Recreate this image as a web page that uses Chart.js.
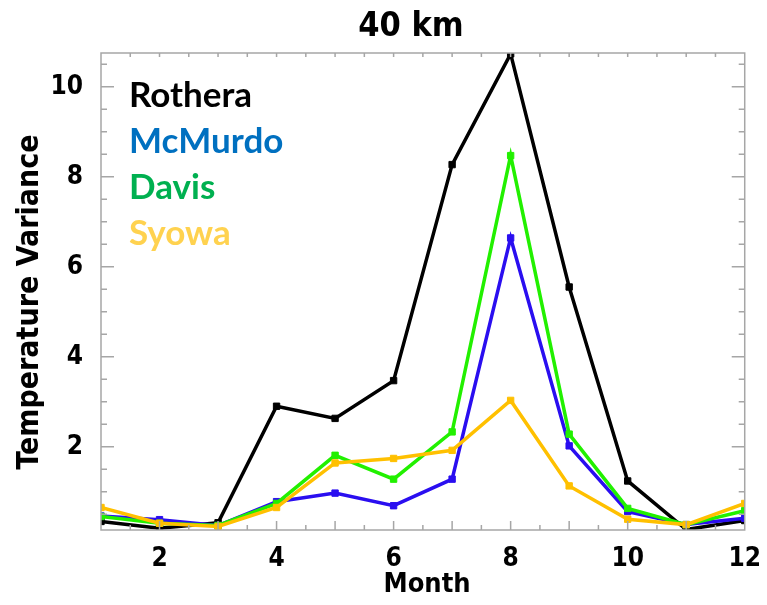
<!DOCTYPE html>
<html>
<head>
<meta charset="utf-8">
<script src="https://cdn.jsdelivr.net/npm/chart.js@4.4.1/dist/chart.umd.min.js"></script>
<style>
  html, body { margin: 0; padding: 0; background: #fff; }
  #wrap { width: 767px; height: 605px; }
</style>
</head>
<body>
<div id="wrap"><canvas id="chart"></canvas></div>
<script>
const months = [1, 2, 3, 4, 5, 6, 7, 8, 9, 10, 11, 12];
const rothera = [0.34, 0.19, 0.31, 2.90, 2.63, 3.47, 8.27, 10.73, 5.55, 1.24, 0.16, 0.36];
const mcmurdo = [0.46, 0.38, 0.25, 0.78, 0.97, 0.69, 1.28, 6.64, 2.02, 0.56, 0.27, 0.41];
const davis = [0.45, 0.30, 0.25, 0.74, 1.81, 1.28, 2.33, 8.47, 2.28, 0.63, 0.27, 0.58];
const syowa = [0.65, 0.30, 0.23, 0.65, 1.64, 1.74, 1.92, 3.03, 1.13, 0.39, 0.27, 0.74];
const xTicks = [2, 4, 6, 8, 10, 12];
const yTicks = [2, 4, 6, 8, 10];
const stations = ['Rothera', 'McMurdo', 'Davis', 'Syowa'];

const narrow = "'Liberation Sans Narrow', 'DejaVu Sans Condensed', 'Liberation Sans', sans-serif";
const axisColor = '#a6a6a6';

function pts(vals) {
    return months.map((m, i) => ({ x: m, y: vals[i] }));
}

function ds(label, vals, color, order) {
    return {
        label: label,
        data: pts(vals),
        borderColor: color,
        backgroundColor: color,
        borderWidth: 3.5,
        pointStyle: 'rect',
        pointRadius: 4.5,
        pointBorderWidth: 1,
        order: order
    };
}

// axis frame, inward ticks, title and text legend
const decor = {
    id: 'decor',
    afterDraw(chart) {
        const c = chart.ctx;
        const a = chart.chartArea;
        const xs = chart.scales.x, ys = chart.scales.y;
        c.save();
        c.strokeStyle = axisColor;
        c.lineWidth = 1.5;
        c.strokeRect(a.left, a.top, a.right - a.left, a.bottom - a.top);
        c.beginPath();
        for (let v = 1.5; v < 12; v += 0.5) {
            const px = xs.getPixelForValue(v);
            const major = v % 1 === 0;
            c.moveTo(px, a.bottom);
            c.lineTo(px, a.bottom - (major ? 9 : 5));
            c.moveTo(px, a.top);
            c.lineTo(px, a.top + 4);
        }
        for (let v = 0.5; v < ys.max; v += 0.5) {
            if (v < ys.min) continue;
            const py = ys.getPixelForValue(v);
            const len = v % 2 === 0 ? 13 : 6;
            c.moveTo(a.left, py);
            c.lineTo(a.left + len, py);
            c.moveTo(a.right, py);
            c.lineTo(a.right - len, py);
        }
        c.stroke();

        c.fillStyle = '#000';
        c.textAlign = 'center';
        c.textBaseline = 'middle';
        c.font = 'bold 34px ' + narrow;
        c.fillText('40 km', 411, 27);
        c.font = 'bold 27px ' + narrow;
        c.fillText('Month', 427, 585);
        c.save();
        c.translate(30, 302);
        c.rotate(-Math.PI / 2);
        c.font = 'bold 30px ' + narrow;
        c.fillText('Temperature Variance', 0, 0);
        c.restore();

        const legendColors = ['#000000', '#0070c0', '#00b050', '#ffd24f'];
        c.textAlign = 'left';
        c.textBaseline = 'alphabetic';
        c.font = "bold 35px Lato, 'Open Sans', sans-serif";
        stations.forEach((s, i) => {
            c.fillStyle = legendColors[i];
            c.fillText(s, 129, 107 + i * 46);
        });
        c.restore();
    }
};

new Chart(document.getElementById('chart'), {
    type: 'line',
    data: {
        datasets: [
            ds(stations[0], rothera, '#000000', 3),
            ds(stations[1], mcmurdo, '#2a0ef0', 2),
            ds(stations[2], davis, '#22f000', 1),
            ds(stations[3], syowa, '#ffc000', 0)
        ]
    },
    options: {
        responsive: true,
        maintainAspectRatio: false,
        animation: false,
        layout: { padding: { left: 0, right: 21, top: 53, bottom: 0 } },
        plugins: {
            legend: { display: false },
            tooltip: { enabled: false }
        },
        scales: {
            x: {
                type: 'linear',
                min: 1,
                max: 12,
                afterBuildTicks: (s) => { s.ticks = xTicks.map(v => ({ value: v })); },
                afterFit: (s) => { s.height = 75; },
                grid: { display: false },
                border: { display: false },
                ticks: {
                    color: '#000',
                    padding: 6,
                    maxRotation: 0,
                    font: { family: narrow, size: 26, weight: 'bold' }
                }
            },
            y: {
                min: 0.15,
                max: 10.75,
                afterBuildTicks: (s) => { s.ticks = yTicks.map(v => ({ value: v })); },
                afterFit: (s) => { s.width = 101; },
                grid: { display: false },
                border: { display: false },
                ticks: {
                    color: '#000',
                    padding: 10,
                    font: { family: narrow, size: 26, weight: 'bold' }
                }
            }
        }
    },
    plugins: [decor]
});
</script>
</body>
</html>
